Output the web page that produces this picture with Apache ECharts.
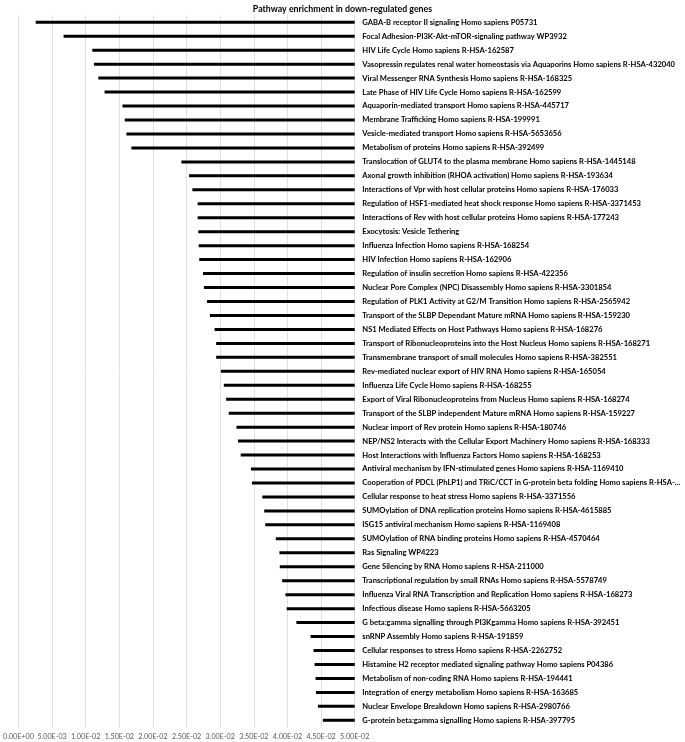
<!DOCTYPE html>
<html>
<head>
<meta charset="utf-8">
<script src="https://cdn.jsdelivr.net/npm/echarts@6/dist/echarts.min.js"></script>
<style>html,body{margin:0;padding:0;background:#fff;}#c{width:685px;height:742px;}</style>
</head>
<body>
<div id="c"></div>
<script>
const chartTitle = 'Pathway enrichment in down-regulated genes';
const categories = [
  'GABA-B receptor II signaling Homo sapiens P05731',
  'Focal Adhesion-PI3K-Akt-mTOR-signaling pathway WP3932',
  'HIV Life Cycle Homo sapiens R-HSA-162587',
  'Vasopressin regulates renal water homeostasis via Aquaporins Homo sapiens R-HSA-432040',
  'Viral Messenger RNA Synthesis Homo sapiens R-HSA-168325',
  'Late Phase of HIV Life Cycle Homo sapiens R-HSA-162599',
  'Aquaporin-mediated transport Homo sapiens R-HSA-445717',
  'Membrane Trafficking Homo sapiens R-HSA-199991',
  'Vesicle-mediated transport Homo sapiens R-HSA-5653656',
  'Metabolism of proteins Homo sapiens R-HSA-392499',
  'Translocation of GLUT4 to the plasma membrane Homo sapiens R-HSA-1445148',
  'Axonal growth inhibition (RHOA activation) Homo sapiens R-HSA-193634',
  'Interactions of Vpr with host cellular proteins Homo sapiens R-HSA-176033',
  'Regulation of HSF1-mediated heat shock response Homo sapiens R-HSA-3371453',
  'Interactions of Rev with host cellular proteins Homo sapiens R-HSA-177243',
  'Exocytosis: Vesicle Tethering',
  'Influenza Infection Homo sapiens R-HSA-168254',
  'HIV Infection Homo sapiens R-HSA-162906',
  'Regulation of insulin secretion Homo sapiens R-HSA-422356',
  'Nuclear Pore Complex (NPC) Disassembly Homo sapiens R-HSA-3301854',
  'Regulation of PLK1 Activity at G2/M Transition Homo sapiens R-HSA-2565942',
  'Transport of the SLBP Dependant Mature mRNA Homo sapiens R-HSA-159230',
  'NS1 Mediated Effects on Host Pathways Homo sapiens R-HSA-168276',
  'Transport of Ribonucleoproteins into the Host Nucleus Homo sapiens R-HSA-168271',
  'Transmembrane transport of small molecules Homo sapiens R-HSA-382551',
  'Rev-mediated nuclear export of HIV RNA Homo sapiens R-HSA-165054',
  'Influenza Life Cycle Homo sapiens R-HSA-168255',
  'Export of Viral Ribonucleoproteins from Nucleus Homo sapiens R-HSA-168274',
  'Transport of the SLBP independent Mature mRNA Homo sapiens R-HSA-159227',
  'Nuclear import of Rev protein Homo sapiens R-HSA-180746',
  'NEP/NS2 Interacts with the Cellular Export Machinery Homo sapiens R-HSA-168333',
  'Host Interactions with Influenza Factors Homo sapiens R-HSA-168253',
  'Antiviral mechanism by IFN-stimulated genes Homo sapiens R-HSA-1169410',
  'Cooperation of PDCL (PhLP1) and TRiC/CCT in G-protein beta folding Homo sapiens R-HSA-...',
  'Cellular response to heat stress Homo sapiens R-HSA-3371556',
  'SUMOylation of DNA replication proteins Homo sapiens R-HSA-4615885',
  'ISG15 antiviral mechanism Homo sapiens R-HSA-1169408',
  'SUMOylation of RNA binding proteins Homo sapiens R-HSA-4570464',
  'Ras Signaling WP4223',
  'Gene Silencing by RNA Homo sapiens R-HSA-211000',
  'Transcriptional regulation by small RNAs Homo sapiens R-HSA-5578749',
  'Influenza Viral RNA Transcription and Replication Homo sapiens R-HSA-168273',
  'Infectious disease Homo sapiens R-HSA-5663205',
  'G beta:gamma signalling through PI3Kgamma Homo sapiens R-HSA-392451',
  'snRNP Assembly Homo sapiens R-HSA-191859',
  'Cellular responses to stress Homo sapiens R-HSA-2262752',
  'Histamine H2 receptor mediated signaling pathway Homo sapiens P04386',
  'Metabolism of non-coding RNA Homo sapiens R-HSA-194441',
  'Integration of energy metabolism Homo sapiens R-HSA-163685',
  'Nuclear Envelope Breakdown Homo sapiens R-HSA-2980766',
  'G-protein beta:gamma signalling Homo sapiens R-HSA-397795'
];
const pValues = [
  0.00257, 0.00671, 0.01099, 0.01123, 0.01188, 0.01281, 0.01547, 0.01581, 0.01606, 0.01680,
  0.02423, 0.02537, 0.02586, 0.02665, 0.02665, 0.02674, 0.02680, 0.02689, 0.02744, 0.02758,
  0.02803, 0.02847, 0.02917, 0.02940, 0.02940, 0.03010, 0.03054, 0.03088, 0.03128, 0.03242,
  0.03265, 0.03305, 0.03457, 0.03472, 0.03626, 0.03655, 0.03670, 0.03827, 0.03881, 0.03886,
  0.03921, 0.03970, 0.03989, 0.04133, 0.04344, 0.04388, 0.04403, 0.04418, 0.04424, 0.04453,
  0.04527
];
const xMin = 0;
const xMax = 0.05;
const xStep = 0.005;

function fmtExp(v) {
  if (Math.abs(v) < 1e-12) return '0.00E+00';
  const s = v.toExponential(2);
  const m = s.split('e');
  const sign = m[1][0] === '-' ? '-' : '+';
  let e = m[1].replace(/^[+-]/, '');
  if (e.length < 2) e = '0' + e;
  return m[0] + 'E' + sign + e;
}

const labelFont = "Lato, 'Liberation Sans', sans-serif";

const chart = echarts.init(document.getElementById('c'), null, {renderer: 'canvas'});
chart.setOption({
  animation: false,
  backgroundColor: '#ffffff',
  title: {
    text: chartTitle,
    left: 'center',
    top: 0,
    textStyle: {fontFamily: labelFont, fontWeight: 'bold', fontSize: 8.8, color: '#000'}
  },
  grid: {left: 16.3, right: 330.3, top: 15.3, bottom: 14.7, containLabel: false},
  xAxis: {
    type: 'value',
    min: xMin, max: xMax, interval: xStep,
    axisLine: {show: false},
    axisTick: {show: false},
    splitLine: {show: true, lineStyle: {color: '#e0e0e0', width: 1}},
    axisLabel: {
      formatter: fmtExp,
      fontFamily: labelFont, fontSize: 7.2, color: '#595959', margin: 6,
      showMinLabel: true, showMaxLabel: true, hideOverlap: false
    }
  },
  yAxis: {
    type: 'category',
    data: categories,
    inverse: true,
    position: 'right',
    axisLine: {show: false},
    axisTick: {show: false},
    splitLine: {show: false},
    axisLabel: {
      interval: 0,
      margin: 7.6,
      fontFamily: labelFont, fontWeight: 'bold', fontSize: 7.6, color: '#000'
    }
  },
  series: [{
    type: 'custom',
    encode: {x: 0, y: 1},
    data: pValues.map((v, i) => [v, i]),
    renderItem: function (params, api) {
      const idx = api.value(1);
      const p0 = api.coord([api.value(0), idx]);
      const p1 = api.coord([xMax, idx]);
      return {
        type: 'line',
        shape: {x1: p0[0], y1: p0[1], x2: p1[0], y2: p1[1]},
        style: {stroke: '#000', lineWidth: 3}
      };
    }
  }]
});
</script>
</body>
</html>
